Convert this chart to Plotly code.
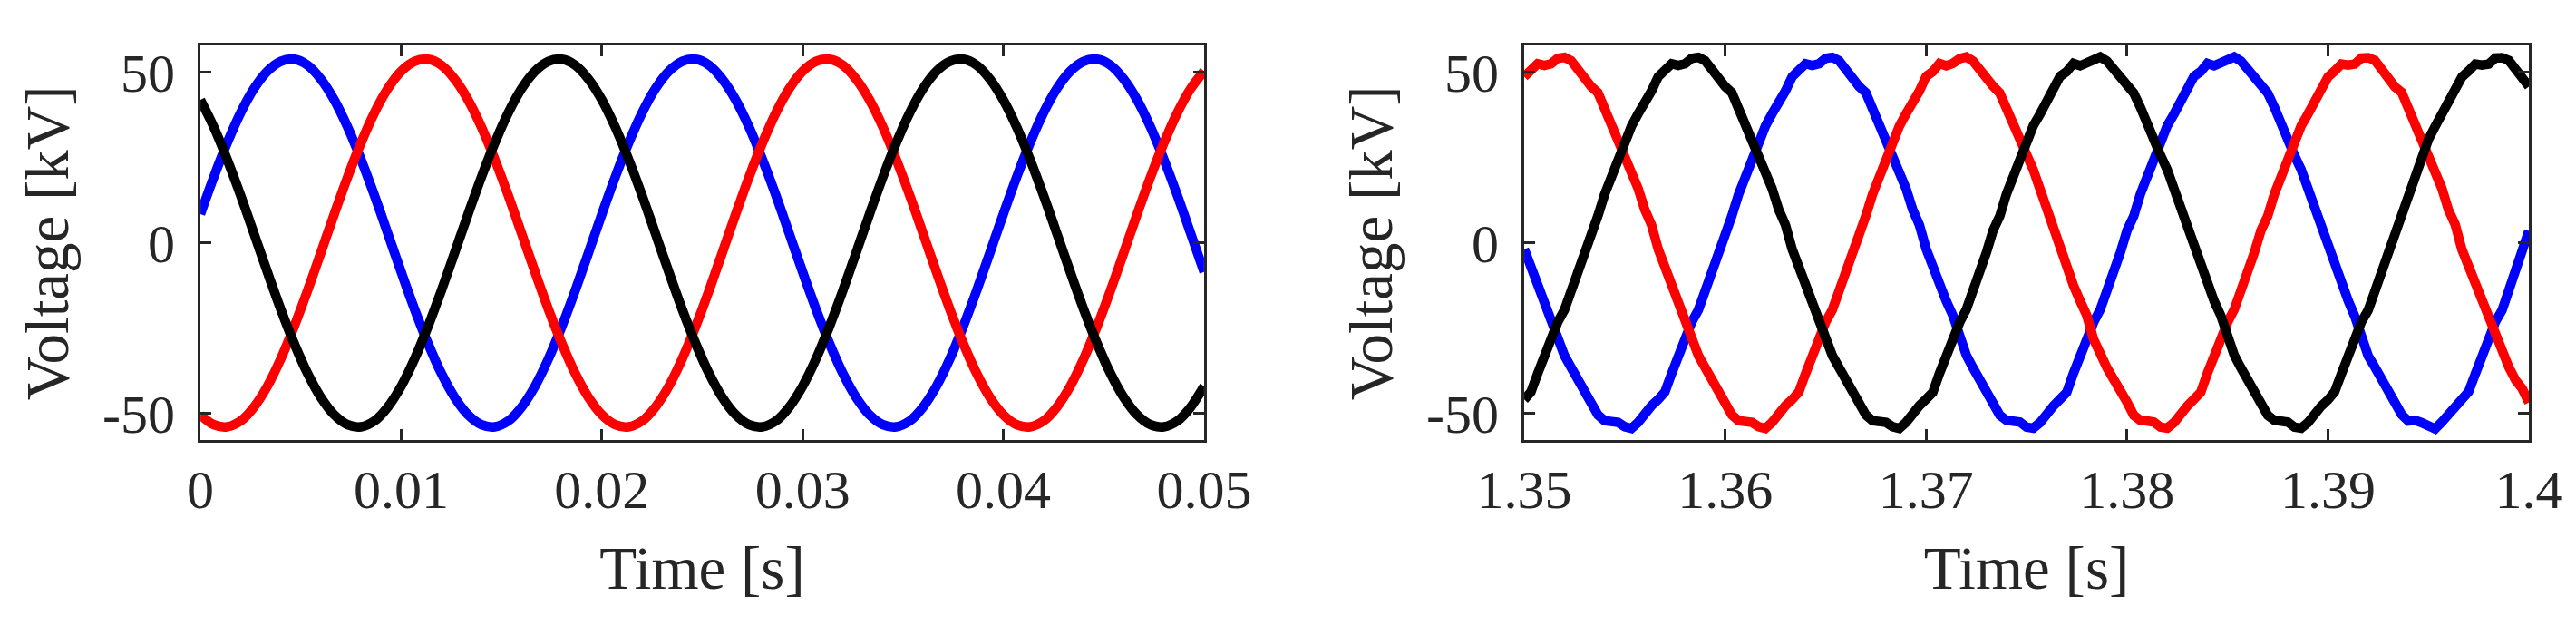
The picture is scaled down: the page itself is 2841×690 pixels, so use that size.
import numpy as np
import plotly.graph_objects as go

# ---------------- data (kV) ----------------
# Left panel: t = 0 ... 0.05 s, 76 samples (step 2/3 ms)
left_blue = [8.5, 19.4, 29.4, 38.2, 45.3, 50.4, 53.3, 53.9, 52.2, 48.1, 42.0, 34.0, 24.5, 14.0, 2.8,
             -8.5, -19.4, -29.4, -38.2, -45.3, -50.4, -53.3, -53.9, -52.2, -48.1, -42.0, -34.0, -24.5, -14.0, -2.8,
             8.5, 19.4, 29.4, 38.2, 45.3, 50.4, 53.3, 53.9, 52.2, 48.1, 42.0, 34.0, 24.5, 14.0, 2.8,
             -8.5, -19.4, -29.4, -38.2, -45.3, -50.4, -53.3, -53.9, -52.2, -48.1, -42.0, -34.0, -24.5, -14.0, -2.8,
             8.5, 19.4, 29.4, 38.2, 45.3, 50.4, 53.3, 53.9, 52.2, 48.1, 42.0, 34.0, 24.5, 14.0, 2.8, -8.5]
left_red = [-50.4, -53.3, -53.9, -52.2, -48.1, -42.0, -34.0, -24.5, -14.0, -2.8,
            8.5, 19.4, 29.4, 38.2, 45.3, 50.4, 53.3, 53.9, 52.2, 48.1, 42.0, 34.0, 24.5, 14.0, 2.8,
            -8.5, -19.4, -29.4, -38.2, -45.3, -50.4, -53.3, -53.9, -52.2, -48.1, -42.0, -34.0, -24.5, -14.0, -2.8,
            8.5, 19.4, 29.4, 38.2, 45.3, 50.4, 53.3, 53.9, 52.2, 48.1, 42.0, 34.0, 24.5, 14.0, 2.8,
            -8.5, -19.4, -29.4, -38.2, -45.3, -50.4, -53.3, -53.9, -52.2, -48.1, -42.0, -34.0, -24.5, -14.0, -2.8,
            8.5, 19.4, 29.4, 38.2, 45.3, 50.4]
left_black = [42.0, 34.0, 24.5, 14.0, 2.8, -8.5, -19.4, -29.4, -38.2, -45.3,
              -50.4, -53.3, -53.9, -52.2, -48.1, -42.0, -34.0, -24.5, -14.0, -2.8,
              8.5, 19.4, 29.4, 38.2, 45.3, 50.4, 53.3, 53.9, 52.2, 48.1,
              42.0, 34.0, 24.5, 14.0, 2.8, -8.5, -19.4, -29.4, -38.2, -45.3,
              -50.4, -53.3, -53.9, -52.2, -48.1, -42.0, -34.0, -24.5, -14.0, -2.8,
              8.5, 19.4, 29.4, 38.2, 45.3, 50.4, 53.3, 53.9, 52.2, 48.1,
              42.0, 34.0, 24.5, 14.0, 2.8, -8.5, -19.4, -29.4, -38.2, -45.3,
              -50.4, -53.3, -53.9, -52.2, -48.1, -42.0]

# Right panel: t = 1.35 ... 1.40 s, 151 samples (step 1/3 ms)
right_red = [
    48.8, 50.4, 52.6, 52.1, 52.6, 54.2, 54.5, 53.5, 50.8, 48.1, 45.9, 44.1, 39.7, 34.8, 30.3, 25.8, 21.4, 16.0, 9.8, 5.3,
    -1.8, -7.1, -12.5, -16.9, -21.4, -28.1, -33.0, -36.5, -40.1, -42.8, -46.8, -50.4, -52.1, -52.1, -52.6, -53.9, -54.4, -52.6, -49.9, -47.7,
    -45.9, -43.7, -38.3, -33.0, -27.6, -23.2, -19.6, -14.3, -8.0, -2.7, 3.6, 8.0, 14.3, 19.6, 25.0, 30.3, 34.3, 37.9, 41.0, 44.6,
    48.9, 50.3, 52.7, 52.0, 52.7, 54.1, 54.6, 53.4, 50.9, 48.0, 46.0, 44.0, 39.8, 34.7, 30.4, 25.7, 21.5, 15.9, 9.9, 5.2,
    -1.7, -7.2, -12.4, -17.0, -21.3, -28.2, -32.9, -36.6, -40.0, -42.9, -46.7, -50.5, -52.0, -52.2, -52.5, -54.0, -54.3, -52.7, -49.8, -47.8,
    -45.8, -43.8, -38.2, -33.1, -27.5, -23.3, -19.5, -14.4, -7.9, -2.8, 3.7, 7.9, 14.4, 19.5, 25.1, 30.2, 34.4, 37.8, 41.1, 44.5,
    48.7, 50.5, 52.5, 52.2, 52.5, 54.3, 54.4, 53.6, 50.7, 48.2, 45.8, 44.2, 39.6, 34.9, 30.2, 25.9, 21.3, 16.1, 9.7, 5.4,
    -1.9, -7.0, -12.6, -16.8, -21.5, -28.0, -33.1, -36.4, -40.2, -42.7, -46.8]
right_black = [
    -45.9, -43.7, -38.3, -33.0, -27.6, -23.2, -19.6, -14.3, -8.0, -2.7, 3.6, 8.0, 14.3, 19.6, 25.0, 30.3, 34.3, 37.9, 41.0, 44.6,
    48.8, 50.4, 52.6, 52.1, 52.6, 54.2, 54.5, 53.5, 50.8, 48.1, 45.9, 44.1, 39.7, 34.8, 30.3, 25.8, 21.4, 16.0, 9.8, 5.3,
    -1.8, -7.1, -12.5, -16.9, -21.4, -28.1, -33.0, -36.5, -40.1, -42.8, -46.8, -50.4, -52.1, -52.1, -52.6, -53.9, -54.4, -52.6, -49.9, -47.7,
    -45.8, -43.8, -38.2, -33.1, -27.5, -23.3, -19.5, -14.4, -7.9, -2.8, 3.7, 7.9, 14.4, 19.5, 25.1, 30.2, 34.4, 37.8, 41.1, 44.5,
    48.9, 50.3, 52.7, 52.0, 52.7, 54.1, 54.6, 53.4, 50.9, 48.0, 46.0, 44.0, 39.8, 34.7, 30.4, 25.7, 21.5, 15.9, 9.9, 5.2,
    -1.7, -7.2, -12.4, -17.0, -21.3, -28.2, -32.9, -36.6, -40.0, -42.9, -46.7, -50.5, -52.0, -52.2, -52.5, -54.0, -54.3, -52.7, -49.8, -47.8,
    -46.0, -43.6, -38.4, -32.9, -27.7, -23.1, -19.7, -14.2, -8.1, -2.6, 3.5, 8.1, 14.2, 19.7, 24.9, 30.4, 34.2, 38.0, 40.9, 44.7,
    48.7, 50.5, 52.5, 52.2, 52.5, 54.3, 54.4, 53.6, 50.7, 48.2, 45.9]
right_blue = [
    -1.8, -7.1, -12.5, -16.9, -21.4, -28.1, -33.0, -36.5, -40.1, -42.8, -46.8, -50.4, -52.1, -52.1, -52.6, -53.9, -54.4, -52.6, -49.9, -47.7,
    -45.9, -43.7, -38.3, -33.0, -27.6, -23.2, -19.6, -14.3, -8.0, -2.7, 3.6, 8.0, 14.3, 19.6, 25.0, 30.3, 34.3, 37.9, 41.0, 44.6,
    48.8, 50.4, 52.6, 52.1, 52.6, 54.2, 54.5, 53.5, 50.8, 48.1, 45.9, 44.1, 39.7, 34.8, 30.3, 25.8, 21.4, 16.0, 9.8, 5.3,
    -1.7, -7.2, -12.4, -17.0, -21.3, -28.2, -32.9, -36.6, -40.0, -42.9, -46.7, -50.5, -52.0, -52.2, -52.5, -54.0, -54.3, -52.7, -49.8, -47.8,
    -45.8, -43.8, -38.2, -33.1, -27.5, -23.3, -19.5, -14.4, -7.9, -2.8, 3.7, 7.9, 14.4, 19.5, 25.1, 30.2, 34.4, 37.8, 41.1, 44.5,
    48.9, 50.3, 52.7, 52.0, 52.7, 54.1, 54.6, 53.4, 50.9, 48.0, 46.0, 44.0, 39.8, 34.7, 30.4, 25.7, 21.5, 15.9, 9.9, 5.2,
    -1.9, -7.0, -12.6, -16.8, -21.5, -28.0, -33.1, -36.4, -40.2, -42.7, -46.9, -50.3, -52.2, -52.0, -52.7, -53.8, -54.5, -52.5, -50.0, -47.6,
    -46.0, -43.6, -38.4, -32.9, -27.7, -23.1, -19.7, -14.2, -8.1, -2.6, 3.6]

t_left = np.linspace(0.0, 0.05, len(left_blue))
t_right = np.linspace(1.35, 1.40, len(right_red))

x_ticks_left = [0, 0.01, 0.02, 0.03, 0.04, 0.05]
x_labels_left = ["0", "0.01", "0.02", "0.03", "0.04", "0.05"]
x_ticks_right = [1.35, 1.36, 1.37, 1.38, 1.39, 1.40]
x_labels_right = ["1.35", "1.36", "1.37", "1.38", "1.39", "1.4"]
y_ticks = [-50, 0, 50]
y_labels = ["-50", "0", "50"]

# ---------------- styles ----------------
FONT = "Liberation Serif"
AX = "#262626"
LW = 10.5
colors = {"blue": "#0000FF", "red": "#FF0000", "black": "#000000"}

fig = go.Figure()
for name, y in [("blue", left_blue), ("red", left_red), ("black", left_black)]:
    fig.add_trace(go.Scatter(x=t_left, y=y, mode="lines", line=dict(color=colors[name], width=LW, shape="spline"),
                             xaxis="x", yaxis="y", showlegend=False))
for name, y in [("blue", right_blue), ("red", right_red), ("black", right_black)]:
    fig.add_trace(go.Scatter(x=t_right, y=y, mode="lines", line=dict(color=colors[name], width=LW),
                             xaxis="x2", yaxis="y2", showlegend=False))

common = dict(showline=True, linecolor=AX, linewidth=3, mirror="ticks", ticks="inside",
              ticklen=12, tickwidth=3, tickcolor=AX, showgrid=False, zeroline=False,
              automargin=False, tickfont=dict(family=FONT, size=60, color=AX))
TF = dict(family=FONT, size=67, color=AX)
ydom = [0.308, 0.9387]
fig.update_layout(
    width=2841, height=690,
    margin=dict(l=0, r=0, t=0, b=0, autoexpand=False),
    paper_bgcolor="white", plot_bgcolor="white",
    xaxis=dict(domain=[0.0750, 0.4646], range=[0, 0.05], tickvals=x_ticks_left, ticktext=x_labels_left,
               anchor="y", title=dict(text="Time [s]", font=TF, standoff=30), **common),
    yaxis=dict(domain=ydom, range=[-57.9, 57.9], tickvals=y_ticks, ticktext=y_labels, anchor="x",
               ticklabelstandoff=13, title=dict(text="Voltage [kV]", font=TF, standoff=16), **common),
    xaxis2=dict(domain=[0.5889, 0.9789], range=[1.35, 1.40], tickvals=x_ticks_right, ticktext=x_labels_right,
                anchor="y2", title=dict(text="Time [s]", font=TF, standoff=30), **common),
    yaxis2=dict(domain=ydom, range=[-57.9, 57.9], tickvals=y_ticks, ticktext=y_labels, anchor="x2",
                ticklabelstandoff=13, title=dict(text="Voltage [kV]", font=TF, standoff=16), **common),
)
fig.write_html("out.html")
